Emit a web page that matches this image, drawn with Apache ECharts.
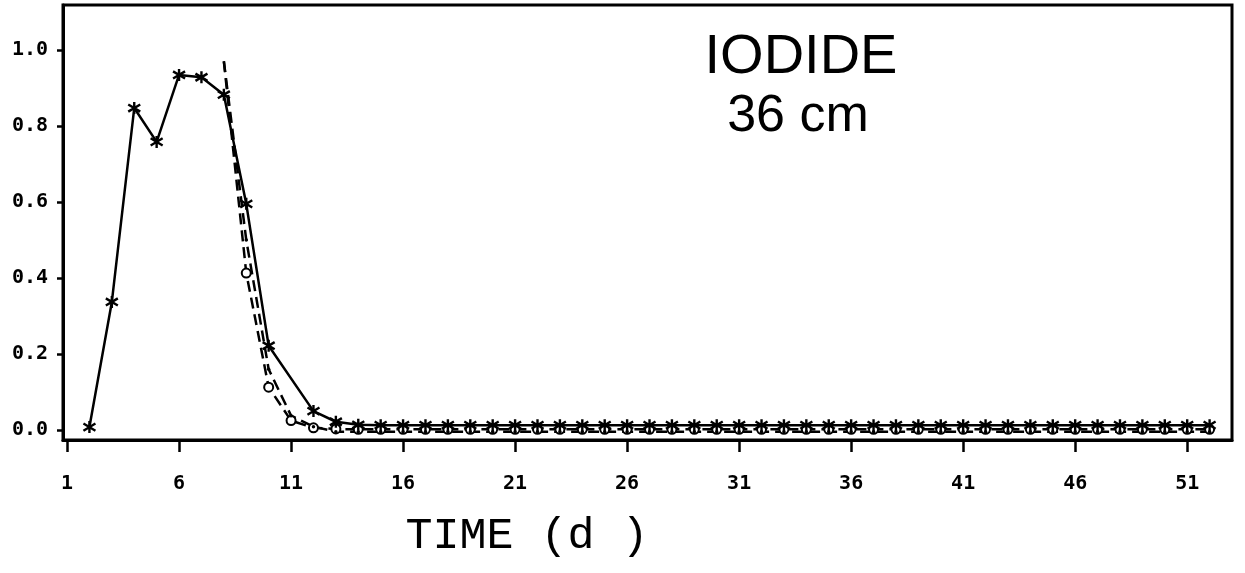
<!DOCTYPE html>
<html>
<head>
<meta charset="utf-8">
<title>IODIDE 36 cm</title>
<script src="https://cdn.jsdelivr.net/npm/echarts@6/dist/echarts.min.js"></script>
<style>
  html, body { margin: 0; padding: 0; background: #fff; }
  #chart { width: 1245px; height: 573px; }
</style>
</head>
<body>
<div id="chart"></div>
<script>
// Relative concentration vs time, iodide at 36 cm depth.

// Measured breakthrough (solid line, star markers)
const measuredDays = [2, 3, 4, 5, 6, 7, 8, 9, 10, 12, 13, 14, 15, 16, 17, 18, 19, 20, 21, 22, 23, 24, 25, 26, 27, 28, 29, 30, 31, 32, 33, 34, 35, 36, 37, 38, 39, 40, 41, 42, 43, 44, 45, 46, 47, 48, 49, 50, 51, 52];
const measuredValues = [0.008, 0.337, 0.847, 0.758, 0.934, 0.928, 0.882, 0.595, 0.222, 0.050, 0.022, 0.014, 0.013, 0.013, 0.013, 0.013, 0.013, 0.013, 0.013, 0.013, 0.013, 0.013, 0.013, 0.013, 0.013, 0.013, 0.013, 0.013, 0.013, 0.013, 0.013, 0.013, 0.013, 0.013, 0.013, 0.013, 0.013, 0.013, 0.013, 0.013, 0.013, 0.013, 0.013, 0.013, 0.013, 0.013, 0.013, 0.013, 0.013, 0.013];

// Simulated curve A (dashed, open circles)
const modelADays = [8, 9, 10, 11, 12, 13, 14, 15, 16, 17, 18, 19, 20, 21, 22, 23, 24, 25, 26, 27, 28, 29, 30, 31, 32, 33, 34, 35, 36, 37, 38, 39, 40, 41, 42, 43, 44, 45, 46, 47, 48, 49, 50, 51, 52];
const modelAValues = [0.97, 0.413, 0.113, 0.025, 0.006, 0.003, 0.002, 0.002, 0.002, 0.002, 0.002, 0.002, 0.002, 0.002, 0.002, 0.002, 0.002, 0.002, 0.002, 0.002, 0.002, 0.002, 0.002, 0.002, 0.002, 0.002, 0.002, 0.002, 0.002, 0.002, 0.002, 0.002, 0.002, 0.002, 0.002, 0.002, 0.002, 0.002, 0.002, 0.002, 0.002, 0.002, 0.002, 0.002, 0.002];

// Simulated curve B (dashed, dots)
const modelBDays = [8, 9, 10, 11, 12, 13, 14, 15, 16, 17, 18, 19, 20, 21, 22, 23, 24, 25, 26, 27, 28, 29, 30, 31, 32, 33, 34, 35, 36, 37, 38, 39, 40, 41, 42, 43, 44, 45, 46, 47, 48, 49, 50, 51, 52];
const modelBValues = [0.97, 0.50, 0.16, 0.038, 0.009, -0.004, -0.004, -0.004, -0.004, -0.004, -0.004, -0.004, -0.004, -0.004, -0.004, -0.004, -0.004, -0.004, -0.004, -0.004, -0.004, -0.004, -0.004, -0.004, -0.004, -0.004, -0.004, -0.004, -0.004, -0.004, -0.004, -0.004, -0.004, -0.004, -0.004, -0.004, -0.004, -0.004, -0.004, -0.004, -0.004, -0.004, -0.004, -0.004, -0.004];

// Axis ticks
const xTicks = [1, 6, 11, 16, 21, 26, 31, 36, 41, 46, 51];
const yTicks = [0, 0.2, 0.4, 0.6, 0.8, 1.0];

// The simulated curves start without a marker at their first point
const pairs = (xs, ys, bareFirst) => xs.map((x, i) =>
  (bareFirst && i === 0) ? { value: [x, ys[i]], symbol: 'none' } : [x, ys[i]]);

const INK = '#000';
const starPath = 'path://M10,0L10,20M1,4L19,16M1,16L19,4';
const tickFont = { fontFamily: 'DejaVu Sans Mono', fontWeight: 'bold', fontSize: 20, color: INK };

const chart = echarts.init(document.getElementById('chart'), null, { renderer: 'canvas' });

chart.setOption({
  animation: false,
  backgroundColor: '#fff',
  grid: {
    left: 63, right: 13, top: 5, bottom: 133,
    show: true, borderColor: INK, borderWidth: 3, backgroundColor: 'transparent'
  },
  xAxis: {
    type: 'value',
    min: 0.82, max: 53,
    axisLine: { show: true, onZero: false, lineStyle: { color: INK, width: 3 } },
    axisTick: { show: true, customValues: xTicks, length: 12, lineStyle: { color: INK, width: 2.5 } },
    axisLabel: { customValues: xTicks, margin: 34, ...tickFont },
    splitLine: { show: false }
  },
  yAxis: {
    type: 'value',
    min: -0.026, max: 1.118,
    axisLine: { show: true, onZero: false, lineStyle: { color: INK, width: 3 } },
    axisTick: { show: true, customValues: yTicks, length: 6, lineStyle: { color: INK, width: 2.5 } },
    axisLabel: { customValues: yTicks, margin: 15, formatter: v => v.toFixed(1), ...tickFont },
    splitLine: { show: false }
  },
  series: [
    {
      name: 'measured',
      type: 'line',
      data: pairs(measuredDays, measuredValues, false),
      symbol: starPath,
      symbolSize: 12,
      showAllSymbol: true,
      itemStyle: { color: 'transparent', borderColor: INK, borderWidth: 2.4 },
      lineStyle: { color: INK, width: 2.5 },
      z: 3
    },
    {
      name: 'model A',
      type: 'line',
      data: pairs(modelADays, modelAValues, true),
      symbol: 'emptyCircle',
      symbolSize: 9,
      showAllSymbol: true,
      itemStyle: { color: INK, borderColor: INK, borderWidth: 2 },
      lineStyle: { color: INK, width: 2.5, type: [11, 6] },
      z: 2
    },
    {
      name: 'model B',
      type: 'line',
      data: pairs(modelBDays, modelBValues, true),
      symbol: 'circle',
      symbolSize: 3.5,
      showAllSymbol: true,
      itemStyle: { color: INK },
      lineStyle: { color: INK, width: 2.5, type: [11, 6] },
      z: 2
    }
  ],
  graphic: [
    {
      type: 'text', x: 801, y: 58,
      style: { text: 'IODIDE', fill: INK, font: 'normal 56px "Liberation Sans", Arial, sans-serif', align: 'center', verticalAlign: 'middle' }
    },
    {
      type: 'text', x: 798, y: 117,
      style: { text: '36 cm', fill: INK, font: 'normal 52px "Liberation Sans", Arial, sans-serif', align: 'center', verticalAlign: 'middle' }
    },
    {
      type: 'text', x: 527, y: 536,
      style: { text: 'TIME (d )', fill: INK, font: 'normal 45px "Liberation Mono", monospace', align: 'center', verticalAlign: 'middle' }
    }
  ]
});
</script>
</body>
</html>
